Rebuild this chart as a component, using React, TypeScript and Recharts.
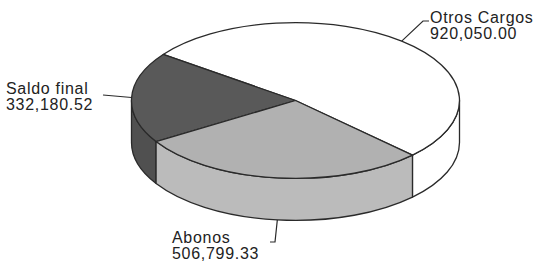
import React from 'react';
import { PieChart, Pie, Cell } from 'recharts';

const categories = ['Otros Cargos', 'Saldo final', 'Abonos'];
const values = [920050.0, 332180.52, 506799.33];
const valueLabels = ['920,050.00', '332,180.52', '506,799.33'];

const data = categories.map((name, i) => ({ name, value: values[i], label: valueLabels[i] }));

const topColors = ['#ffffff', '#595959', '#b1b1b1'];
const sideColors = ['#ffffff', '#505050', '#bbbbbb'];

const W = 535;
const H = 264;
const CX = 295.5;
const CY = 100.5;
const R = 164;
const TILT = 0.475;
const DEPTH = 42;
const STROKE = '#2a2a2a';
const LINE_GAP = 16;

// label layout (leader line elbow and text placement) per slice
const labelLayout = [
  { elbow: [423, 21], end: [429, 21], tx: 430, ty: 23, onSide: false },
  { elbow: [103, 95], end: [103, 95], tx: 6, ty: 94, onSide: false },
  { elbow: [275, 242], end: [270, 242], tx: 172, ty: 243, onSide: true },
];

const RAD = Math.PI / 180;

function pt(cx: number, cy: number, rx: number, ry: number, a: number, dy = 0): [number, number] {
  return [cx + rx * Math.cos(a * RAD), cy - ry * Math.sin(a * RAD) + dy];
}

function renderSlice(props: any) {
  const { cx, cy, outerRadius, startAngle, endAngle, midAngle, index } = props;
  const rx = outerRadius;
  const ry = outerRadius * TILT;
  const s = Math.min(startAngle, endAngle);
  const e = Math.max(startAngle, endAngle);
  const large = e - s > 180 ? 1 : 0;
  const p1 = pt(cx, cy, rx, ry, s);
  const p2 = pt(cx, cy, rx, ry, e);
  const top = `M${cx},${cy} L${p1[0]},${p1[1]} A${rx},${ry} 0 ${large} 0 ${p2[0]},${p2[1]} Z`;

  const sides: string[] = [];
  for (let k = -2; k <= 1; k++) {
    const f0 = 180 + 360 * k;
    const f1 = 360 + 360 * k;
    const b0 = Math.max(s, f0);
    const b1 = Math.min(e, f1);
    if (b1 - b0 > 0.01) {
      const q1 = pt(cx, cy, rx, ry, b0);
      const q2 = pt(cx, cy, rx, ry, b1);
      const q3 = pt(cx, cy, rx, ry, b1, DEPTH);
      const q4 = pt(cx, cy, rx, ry, b0, DEPTH);
      sides.push(
        `M${q1[0]},${q1[1]} A${rx},${ry} 0 0 0 ${q2[0]},${q2[1]} L${q3[0]},${q3[1]} A${rx},${ry} 0 0 1 ${q4[0]},${q4[1]} Z`
      );
    }
  }

  const lay = labelLayout[index];
  const anchor = pt(cx, cy, rx, ry, midAngle, lay.onSide ? DEPTH : 0);
  const entry = data[index];
  const textStyle = {
    fontFamily: "'Liberation Sans', Arial, sans-serif",
    fontSize: 16,
    letterSpacing: 0.7,
    fill: '#222',
  };

  return (
    <g key={`slice-${index}`}>
      {sides.map((d, j) => (
        <path key={j} d={d} fill={sideColors[index]} stroke={STROKE} strokeWidth={1.3} strokeLinejoin="round" />
      ))}
      <path d={top} fill={topColors[index]} stroke={STROKE} strokeWidth={1.3} strokeLinejoin="round" />
      <polyline
        points={`${anchor[0]},${anchor[1]} ${lay.elbow[0]},${lay.elbow[1]} ${lay.end[0]},${lay.end[1]}`}
        fill="none"
        stroke={STROKE}
        strokeWidth={1.2}
      />
      <text x={lay.tx} y={lay.ty} textAnchor="start" style={textStyle}>
        {entry.name}
      </text>
      <text x={lay.tx} y={lay.ty + LINE_GAP} textAnchor="start" style={textStyle}>
        {entry.label}
      </text>
    </g>
  );
}

export default function App() {
  return (
    <div style={{ position: 'absolute', left: 0, top: 0, width: W, height: H, background: '#ffffff' }}>
      <PieChart width={W} height={H} margin={{ top: 0, right: 0, bottom: 0, left: 0 }}>
        <Pie
          data={data}
          dataKey="value"
          nameKey="name"
          cx={CX}
          cy={CY}
          outerRadius={R}
          startAngle={-44.5}
          endAngle={315.5}
          isAnimationActive={false}
          stroke="none"
          fill="none"
          label={renderSlice}
          labelLine={false}
        >
          {data.map((d) => (
            <Cell key={d.name} fill="transparent" stroke="none" />
          ))}
        </Pie>
      </PieChart>
    </div>
  );
}
